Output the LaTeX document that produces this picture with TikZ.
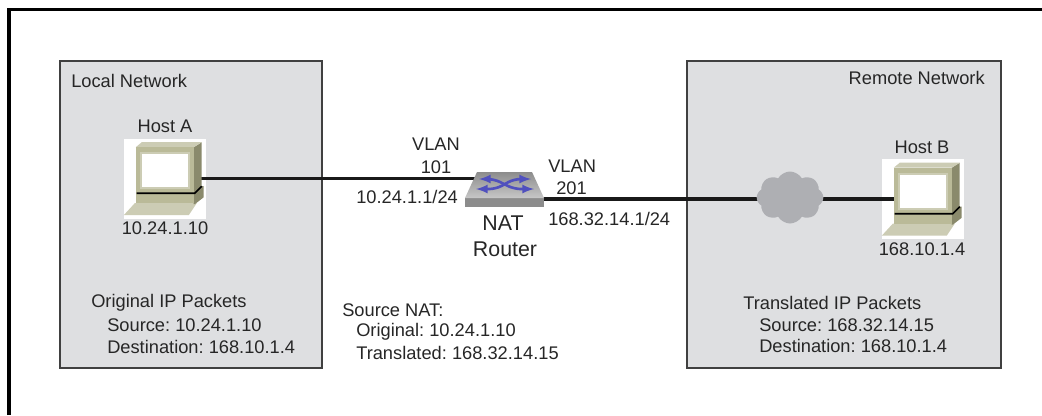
\documentclass[tikz,border=0pt]{standalone}
\usepackage{fontspec}
\setmainfont{Liberation Sans}
\usetikzlibrary{shapes.symbols}
\frenchspacing
\definecolor{netgray}{RGB}{222,223,225}
\definecolor{pcface}{RGB}{186,186,152}
\definecolor{pcside}{RGB}{138,138,108}
\definecolor{pclight}{RGB}{204,204,180}
\definecolor{cloudgray}{RGB}{174,175,179}
\definecolor{lanblue}{RGB}{80,80,190}
\tikzset{
    netbox/.style={draw=black!75,line width=1.2pt,fill=netgray},
    link/.style={line width=2.5pt,black!90},
    txt/.style={inner sep=0pt,font=\fontsize{13.7}{16}\selectfont,text=black!85},
    bigtxt/.style={inner sep=0pt,font=\fontsize{16}{19}\selectfont,text=black!85},
    hostnode/.style={fill=white,inner sep=0pt,minimum width=61.5pt,minimum height=60pt},
    wanshape/.style={cloud,cloud puffs=8,cloud puff arc=120,aspect=1.25,inner sep=0pt,minimum width=50pt,minimum height=39pt},
    host/.pic={
      \fill[pclight] (0,77) -- (11,65) -- (73,65) -- (65,77) -- cycle;
      \fill[pcside] (70,9) -- (78,4) -- (78,48) -- (80,48) -- (80,59) -- (71,66) -- (70,66) -- cycle;
      \fill[pclight] (12,9) -- (18,4) -- (78,4) -- (70,9) -- cycle;
      \fill[pcface] (12,9) rectangle (70,65);
      \fill[pclight] (16,14) rectangle (66,51);
      \fill[white] (18,16) rectangle (64,49);
      \draw[line width=1.2pt,black] (13,55) -- (71,55) -- (78,48);
    },
  }
\begin{document}
\begin{tikzpicture}[x=0.75pt,y=-0.75pt]
  \useasboundingbox (0,0) rectangle (1042,415);
  \draw[line width=2.5pt] (9,415) -- (9,9.5) -- (1042,9.5);
  \draw[netbox] (60,61) rectangle (322,368);
  \draw[netbox] (687,61) rectangle (1001,368);

  \node[hostnode] (hostA) at (165,178.5) {};
  \node[hostnode] (hostB) at (923,199) {};
  \node[inner sep=0pt,minimum width=60pt,minimum height=26pt] (router) at (505,189.5) {};
  \node[wanshape] (wan) at (790,197.5) {};

  \draw[link] (hostA.center |- 0,178.5) -- (router.center |- 0,178.5);
  \draw[link] (router.center |- 0,199) -- (wan.center |- 0,199);
  \draw[link] (wan.center |- 0,199) -- (hostB.center |- 0,199);

  \node[wanshape,fill=cloudgray] at (wan) {};
  \pic at (hostA.north west) {host};
  \pic at (hostB.north west) {host};

  % router
  \fill[black!45] (465,198) -- (544,198) -- (544,207) -- (465,207) -- cycle;
  \shade[top color=black!45,bottom color=black!22] (477,172) -- (532,172) -- (544,198) -- (465,198) -- cycle;
  \draw[lanblue,line width=2pt,rounded corners=5pt,latex-latex] (479,179) -- (494,179) -- (514,189) -- (534,189);
  \draw[lanblue,line width=2pt,rounded corners=5pt,latex-latex] (476,189) -- (496,189) -- (514,179) -- (531,179);

  \node[txt,anchor=west] (localname) at (71,81) {Local Network};
  \node[txt,anchor=east] (remotename) at (985,78) {Remote Network};
  \node[txt] (hostAname) at (165,126) {Host A};
  \node[txt] (hostAip) at (165,228) {10.24.1.10};
  \node[txt] (hostBname) at (922,147) {Host B};
  \node[txt] (hostBip) at (922,249) {168.10.1.4};

  \node[txt] (vlanA) at (436,144) {VLAN};
  \node[txt] (vlanAnum) at (436,167) {101};
  \node[txt,anchor=west] (ifA) at (356,197) {10.24.1.1/24};
  \node[txt,anchor=west] (vlanB) at (548,166) {VLAN};
  \node[txt] (vlanBnum) at (571.5,188) {201};
  \node[txt,anchor=west] (ifB) at (548,219) {168.32.14.1/24};
  \node[bigtxt] (nat) at (503,223) {NAT};
  \node[bigtxt] (routername) at (505,249) {Router};

  \node[txt,anchor=west] (origA) at (91,303) {Original IP Packets};
  \node[txt,anchor=west] (origB) at (107,325) {Source: 10.24.1.10};
  \node[txt,anchor=west] (origC) at (107,347) {Destination: 168.10.1.4};

  \node[txt,anchor=west] (natA) at (342,310) {Source NAT:};
  \node[txt,anchor=west] (natB) at (356,332) {Original: 10.24.1.10};
  \node[txt,anchor=west] (natC) at (356,353) {Translated: 168.32.14.15};

  \node[txt,anchor=west] (transA) at (743,303) {Translated IP Packets};
  \node[txt,anchor=west] (transB) at (759,325) {Source: 168.32.14.15};
  \node[txt,anchor=west] (transC) at (759,346) {Destination: 168.10.1.4};
\end{tikzpicture}
\end{document}
